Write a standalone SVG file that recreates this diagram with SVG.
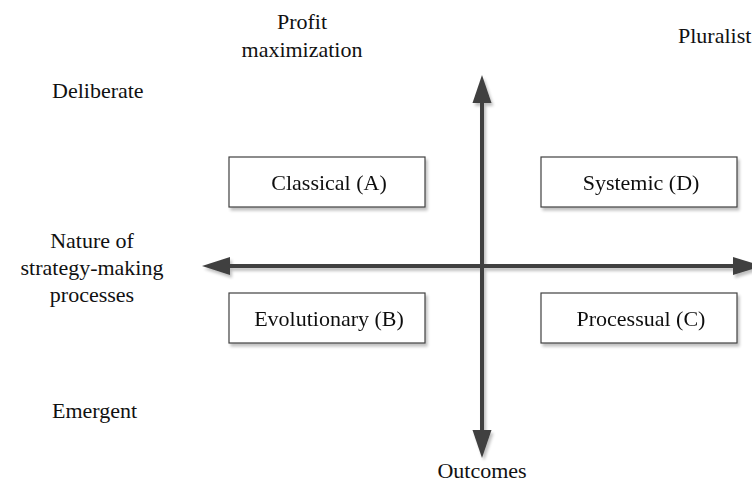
<svg xmlns="http://www.w3.org/2000/svg" width="752" height="484" viewBox="0 0 752 484">
  <style>
    text { font-family: "Liberation Serif", "Times New Roman", serif; font-size: 22px; fill: #111; }
    .mid { text-anchor: middle; }
    .box { fill: #fff; stroke: #404040; stroke-width: 1.2; }
    .axis { stroke: #404040; stroke-width: 4; fill: none; }
    .head { fill: #404040; }
  </style>
  <defs>
    <filter id="shadow" x="-10%" y="-10%" width="130%" height="140%">
      <feGaussianBlur in="SourceAlpha" stdDeviation="1.5"/>
      <feOffset dx="2" dy="3" result="b"/>
      <feComponentTransfer><feFuncA type="linear" slope="0.25"/></feComponentTransfer>
      <feMerge><feMergeNode/><feMergeNode in="SourceGraphic"/></feMerge>
    </filter>
  </defs>
  <rect width="752" height="484" fill="#fff"/>

  <!-- axes -->
  <g id="connectors" filter="url(#shadow)">
    <line class="axis" x1="228" y1="266" x2="736" y2="266"/>
    <polygon class="head" points="202,266 230,257 230,275"/>
    <polygon class="head" points="762,266 733,257 733,275"/>
    <line class="axis" x1="482" y1="100" x2="482" y2="432"/>
    <polygon class="head" points="482,75 472.5,103 491.5,103"/>
    <polygon class="head" points="482,458 472.5,430 491.5,430"/>
  </g>

  <!-- quadrant boxes -->
  <g id="classical" filter="url(#shadow)">
    <rect class="box" x="229" y="157" width="196" height="50"/>
    <text class="mid" x="329" y="190">Classical (A)</text>
  </g>
  <g id="systemic" filter="url(#shadow)">
    <rect class="box" x="541" y="157" width="196" height="50"/>
    <text class="mid" x="641" y="190">Systemic (D)</text>
  </g>
  <g id="evolutionary" filter="url(#shadow)">
    <rect class="box" x="229" y="293" width="196" height="50"/>
    <text class="mid" x="329" y="326">Evolutionary (B)</text>
  </g>
  <g id="processual" filter="url(#shadow)">
    <rect class="box" x="541" y="293" width="196" height="50"/>
    <text class="mid" x="641" y="326">Processual (C)</text>
  </g>

  <!-- axis labels -->
  <g id="labels">
    <text class="mid" x="302" y="29">Profit</text>
    <text class="mid" x="302" y="57">maximization</text>
    <text x="678" y="43">Pluralist</text>
    <text x="52" y="98">Deliberate</text>
    <text class="mid" x="92" y="248">Nature of</text>
    <text class="mid" x="92" y="275">strategy-making</text>
    <text class="mid" x="92" y="302">processes</text>
    <text x="52" y="418">Emergent</text>
    <text class="mid" x="482" y="478">Outcomes</text>
  </g>
</svg>
